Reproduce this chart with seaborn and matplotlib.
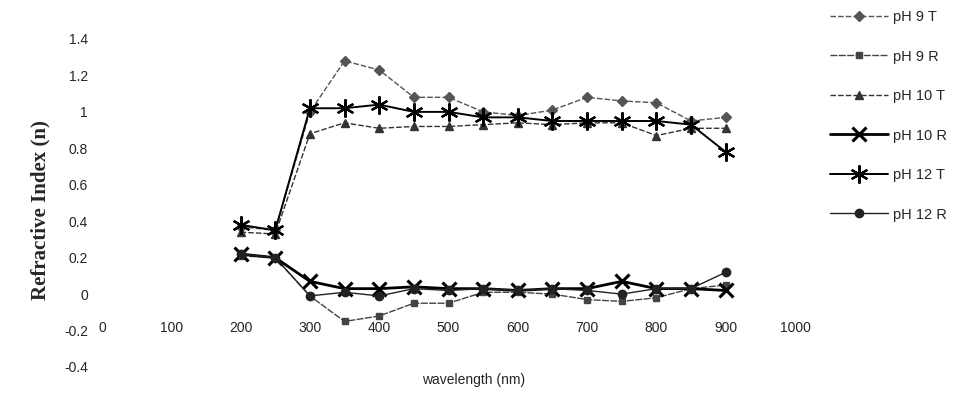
import numpy as np
import pandas as pd
import seaborn as sns
import matplotlib.pyplot as plt

sns.set_style('white')
plt.rcParams['font.family'] = ['Liberation Sans Narrow', 'Liberation Sans', 'DejaVu Sans']

wavelength = [200, 250, 300, 350, 400, 450, 500, 550, 600, 650, 700, 750, 800, 850, 900]
ph9_t = [0.37, 0.35, 1.00, 1.28, 1.23, 1.08, 1.08, 1.00, 0.98, 1.01, 1.08, 1.06, 1.05, 0.95, 0.97]
ph9_r = [0.21, 0.20, -0.01, -0.15, -0.12, -0.05, -0.05, 0.01, 0.01, 0.00, -0.03, -0.04, -0.02, 0.03, 0.05]
ph10_t = [0.34, 0.33, 0.88, 0.94, 0.91, 0.92, 0.92, 0.93, 0.94, 0.93, 0.94, 0.94, 0.87, 0.91, 0.91]
ph10_r = [0.22, 0.20, 0.07, 0.03, 0.03, 0.04, 0.03, 0.03, 0.02, 0.03, 0.03, 0.07, 0.03, 0.03, 0.02]
ph12_t = [0.38, 0.35, 1.02, 1.02, 1.04, 1.00, 1.00, 0.97, 0.97, 0.95, 0.95, 0.95, 0.95, 0.93, 0.78]
ph12_r = [0.22, 0.20, -0.01, 0.01, -0.01, 0.03, 0.02, 0.03, 0.02, 0.03, 0.02, 0.00, 0.03, 0.03, 0.12]

series_names = ['pH 9 T', 'pH 9 R', 'pH 10 T', 'pH 10 R', 'pH 12 T', 'pH 12 R']
series_vals = [ph9_t, ph9_r, ph10_t, ph10_r, ph12_t, ph12_r]

df = pd.DataFrame({'wavelength': wavelength * len(series_names),
                   'n': sum(series_vals, []),
                   'series': np.repeat(series_names, len(wavelength))})

styles = {
    'pH 9 T': dict(marker='D', ms=5, color='#555555', lw=1.0, ls=(0, (4, 1.5))),
    'pH 9 R': dict(marker='s', ms=5, color='#444444', lw=1.0, ls=(0, (5, 1))),
    'pH 10 T': dict(marker='^', ms=6, color='#333333', lw=1.0, ls=(0, (4, 1.5))),
    'pH 10 R': dict(marker='x', ms=10, mew=2.2, color='black', lw=2.0, ls='-'),
    'pH 12 T': dict(marker=(6, 2, 0), ms=13, mew=1.6, color='black', lw=1.4, ls='-'),
    'pH 12 R': dict(marker='o', ms=6, color='#222222', lw=1.0, ls='-'),
}

fig = plt.figure(figsize=(9.59, 4.16), dpi=100)
ax = fig.add_axes([102/959, 49/416, 693/959, 328/416])

for name in series_names:
    sub = df[df['series'] == name]
    st = styles[name]
    sns.lineplot(data=sub, x='wavelength', y='n', ax=ax, label=name,
                 color=st['color'], marker=st['marker'], markersize=st['ms'],
                 markeredgewidth=st.get('mew', 1.0), linewidth=st['lw'],
                 linestyle=st['ls'], markeredgecolor=st['color'])

ax.set_xlim(0, 1000)
ax.set_ylim(-0.4, 1.4)
ax.set_xticks(np.arange(0, 1001, 100))
ax.set_yticks(np.round(np.arange(-0.4, 1.41, 0.2), 1))
ax.set_yticklabels(['-0.4', '-0.2', '0', '0.2', '0.4', '0.6', '0.8', '1', '1.2', '1.4'])
for s in ax.spines.values():
    s.set_visible(False)
ax.spines['bottom'].set_position(('data', 0))
ax.tick_params(axis='x', length=0, pad=19, labelsize=10)
ax.tick_params(axis='y', length=0, pad=10, labelsize=10)
ax.set_xlabel('')
ax.set_ylabel('')

fig.text(40/959, 1 - 210/416, 'Refractive Index (n)', rotation=90, ha='center', va='center',
         fontsize=15, fontweight='bold', family=['Liberation Serif', 'DejaVu Serif'])
fig.text(474/959, 1 - 380/416, 'wavelength (nm)', ha='center', va='center', fontsize=10)

ax.get_legend().remove()
handles, labels = ax.get_legend_handles_labels()
fig.legend(handles, labels, loc='upper left', bbox_to_anchor=(830/959, 1 - 10/416),
           frameon=False, fontsize=10.5, handlelength=4.0, handletextpad=0.3,
           labelspacing=1.75, borderaxespad=0, borderpad=0)

fig.savefig('out.png', dpi=100)
